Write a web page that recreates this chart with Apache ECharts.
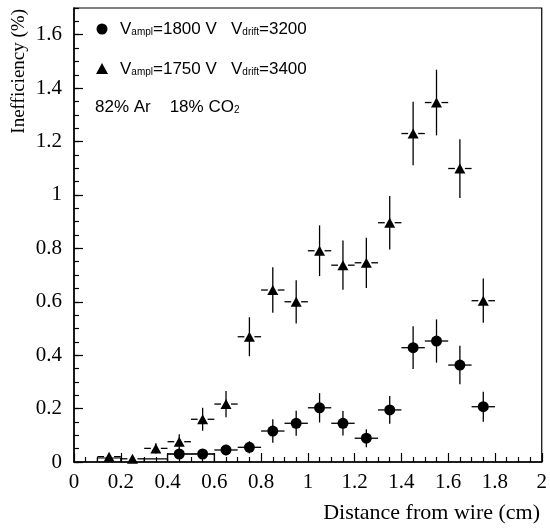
<!DOCTYPE html>
<html>
<head>
<meta charset="utf-8">
<script src="https://cdn.jsdelivr.net/npm/echarts@6/dist/echarts.min.js"></script>
<style>html,body{margin:0;padding:0;background:#fff}#c{width:550px;height:530px}</style>
</head>
<body>
<div id="c"></div>
<script>
// ---- data ----
const triX   = [0.15,0.25,0.35,0.45,0.55,0.65,0.75,0.85,0.95,1.05,1.15,1.25,1.35,1.45,1.55,1.65,1.75];
const triY   = [0.020,0.012,0.051,0.076,0.160,0.217,0.469,0.644,0.600,0.791,0.737,0.746,0.896,1.230,1.346,1.099,0.604];
const triErr = [0.010,0.008,0.019,0.028,0.043,0.049,0.073,0.085,0.081,0.095,0.092,0.094,0.100,0.119,0.123,0.110,0.083];

const cirX   = [0.45,0.55,0.65,0.75,0.85,0.95,1.05,1.15,1.25,1.35,1.45,1.55,1.65,1.75];
const cirY   = [0.030,0.030,0.045,0.055,0.116,0.145,0.203,0.145,0.089,0.195,0.428,0.453,0.363,0.207];
const cirErr = [0.012,0.012,0.020,0.023,0.044,0.047,0.055,0.046,0.034,0.052,0.080,0.081,0.072,0.056];

const binHalfWidth = 0.05;
// low-value histogram outlines [xLow, xHigh, value]
const lowBins = [[0.1,0.2,0.015],[0.3,0.4,0.012],[0.4,0.6,0.030]];

const xTickLabels = ['0','0.2','0.4','0.6','0.8','1','1.2','1.4','1.6','1.8','2'];
const yTickLabels = ['0','0.2','0.4','0.6','0.8','1','1.2','1.4','1.6'];

const legendLabels = [
  'V{sub|ampl}=1800 V   V{sub|drift}=3200',
  'V{sub|ampl}=1750 V   V{sub|drift}=3400',
  '82% Ar    18% CO{sub|2}'
];
const xTitle = 'Distance from wire (cm)';
const yTitle = 'Inefficiency (%)';

// ---- build ----
const triData = triX.map((x,i)=>[x,triY[i],triErr[i]]);
const cirData = cirX.map((x,i)=>[x,cirY[i],cirErr[i]]);

function errItem(params, api){
  const x = api.value(0), y = api.value(1), e = api.value(2);
  const c = api.coord([x,y]);
  const t = api.coord([x,y+e]);
  const b = api.coord([x,Math.max(0,y-e)]);
  const l = api.coord([x-binHalfWidth,y]);
  const r = api.coord([x+binHalfWidth,y]);
  const gap = 5;
  const st = {stroke:'#000', lineWidth:1.3};
  return {type:'group', children:[
    {type:'line', shape:{x1:c[0],y1:t[1],x2:c[0],y2:b[1]}, style:st},
    {type:'line', shape:{x1:l[0],y1:c[1],x2:c[0]-gap,y2:c[1]}, style:st},
    {type:'line', shape:{x1:c[0]+gap,y1:c[1],x2:r[0],y2:c[1]}, style:st}
  ]};
}
function binItem(params, api){
  const x0 = api.value(0), x1 = api.value(1), v = api.value(2);
  const p0 = api.coord([x0,0]), p1 = api.coord([x0,v]), p2 = api.coord([x1,v]), p3 = api.coord([x1,0]);
  return {type:'polyline', shape:{points:[p0,p1,p2,p3]}, style:{stroke:'#000', lineWidth:1.2, fill:null}};
}

const serif = 'Liberation Serif, Times New Roman, serif';
const sans = 'Liberation Sans, Arial, sans-serif';
const subRich = {sub:{fontSize:10,fontFamily:sans,verticalAlign:'bottom',lineHeight:10}};

const chart = echarts.init(document.getElementById('c'), null, {renderer:'canvas'});
chart.setOption({
  animation:false,
  backgroundColor:'#fff',
  grid:{left:74,right:8,top:8,bottom:68,show:true,borderColor:'#000',borderWidth:1.2,backgroundColor:'transparent'},
  xAxis:{
    type:'value', min:0, max:2, interval:0.2,
    axisLine:{onZero:false,lineStyle:{color:'#000',width:1.5}},
    axisTick:{inside:true,length:9,lineStyle:{color:'#000',width:1.2}},
    minorTick:{show:true,splitNumber:4,length:5,lineStyle:{color:'#000',width:1.2}},
    splitLine:{show:false}, minorSplitLine:{show:false},
    axisLabel:{color:'#000',fontFamily:serif,fontSize:21,margin:10,
      formatter:v=>{const i=Math.round(v/0.2);return xTickLabels[i]!==undefined?xTickLabels[i]:'';}}
  },
  yAxis:[{
    type:'value', min:0, max:1.7, interval:0.2,
    axisLine:{onZero:false,lineStyle:{color:'#000',width:1.5}},
    axisTick:{inside:true,length:9,lineStyle:{color:'#000',width:1.2}},
    minorTick:{show:false},
    splitLine:{show:false},
    axisLabel:{color:'#000',fontFamily:serif,fontSize:21,margin:12,showMaxLabel:false,
      formatter:v=>{const i=Math.round(v/0.2);return (Math.abs(v-i*0.2)<1e-6 && yTickLabels[i]!==undefined)?yTickLabels[i]:'';}}
  },{
    type:'value', min:0, max:1.7, interval:0.05, position:'left',
    axisLine:{show:false},
    axisTick:{inside:true,length:5,lineStyle:{color:'#000',width:1.2}},
    axisLabel:{show:false}, splitLine:{show:false}
  }],
  series:[
    {type:'custom', renderItem:binItem, data:lowBins, clip:true, z:2, silent:true},
    {type:'custom', renderItem:errItem, data:triData, clip:true, z:3, silent:true},
    {type:'custom', renderItem:errItem, data:cirData, clip:true, z:3, silent:true},
    {type:'scatter', data:triData.map(d=>[d[0],d[1]]), symbol:'triangle', symbolSize:[11,10],
      itemStyle:{color:'#000',opacity:1}, z:5, silent:true},
    {type:'scatter', data:cirData.map(d=>[d[0],d[1]]), symbol:'circle', symbolSize:11,
      itemStyle:{color:'#000',opacity:1}, z:5, silent:true}
  ],
  graphic:[
    {type:'circle', shape:{cx:102,cy:29,r:5.5}, style:{fill:'#000'}},
    {type:'polygon', shape:{points:[[102,63],[96,74],[108,74]]}, style:{fill:'#000'}},
    {type:'text', x:120, y:29, style:{text:legendLabels[0], fill:'#000', font:'17px '+sans, verticalAlign:'middle', rich:subRich}},
    {type:'text', x:120, y:69, style:{text:legendLabels[1], fill:'#000', font:'17px '+sans, verticalAlign:'middle', rich:subRich}},
    {type:'text', x:95, y:107, style:{text:legendLabels[2], fill:'#000', font:'17px '+sans, verticalAlign:'middle', rich:subRich}},
    {type:'text', x:540, y:513, style:{text:xTitle, fill:'#000', font:'22px '+serif, align:'right', verticalAlign:'middle'}},
    {type:'text', x:19, y:9, rotation:Math.PI/2, style:{text:yTitle, fill:'#000', font:'19px '+serif, align:'right', verticalAlign:'middle'}}
  ]
});
</script>
</body>
</html>
